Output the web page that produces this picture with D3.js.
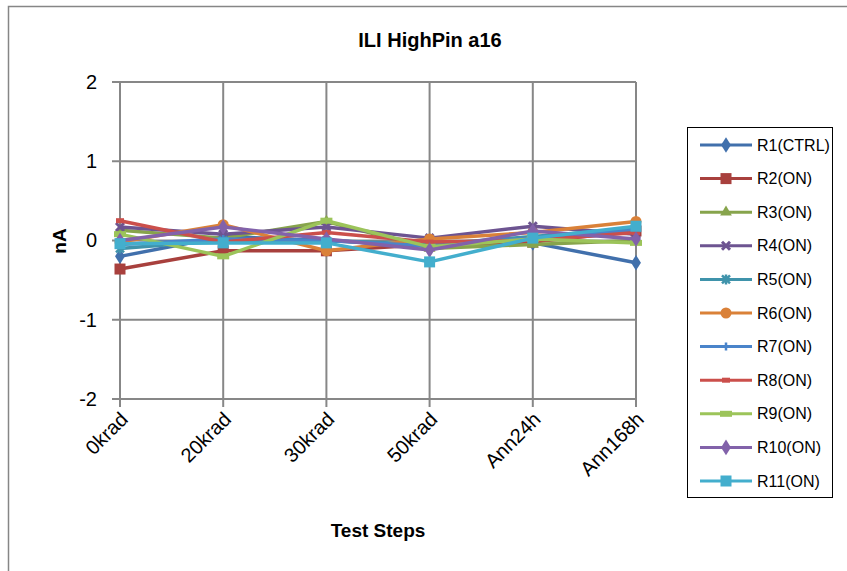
<!DOCTYPE html>
<html>
<head>
<meta charset="utf-8">
<script src="https://d3js.org/d3.v7.min.js"></script>
<style>
  body { margin: 0; background: #fff; }
  svg { font-family: "Liberation Sans", Arial, sans-serif; }
</style>
</head>
<body>
<div class="canvas"></div>
<script>
// data
const steps = ["0krad", "20krad", "30krad", "50krad", "Ann24h", "Ann168h"]
const seriesNames = ["R1(CTRL)", "R2(ON)", "R3(ON)", "R4(ON)", "R5(ON)", "R6(ON)", "R7(ON)", "R8(ON)", "R9(ON)", "R10(ON)", "R11(ON)"]
const r1 = [-0.20, 0.05, 0.00, -0.07, -0.03, -0.28]
const r2 = [-0.36, -0.13, -0.13, -0.05, -0.02, 0.12]
const r3 = [0.13, 0.03, 0.24, -0.10, -0.05, 0.00]
const r4 = [0.17, 0.08, 0.17, 0.03, 0.18, 0.08]
const r5 = [-0.10, 0.00, 0.00, -0.05, 0.05, 0.15]
const r6 = [-0.02, 0.20, -0.13, 0.02, 0.10, 0.24]
const r7 = [-0.05, 0.02, 0.00, -0.07, 0.03, 0.13]
const r8 = [0.25, -0.02, 0.10, -0.02, 0.00, 0.10]
const r9 = [0.08, -0.20, 0.25, -0.08, 0.02, -0.03]
const r10 = [0.00, 0.17, 0.02, -0.12, 0.12, 0.02]
const r11 = [-0.04, -0.03, -0.03, -0.27, 0.03, 0.18]
const yTicks = [-2, -1, 0, 1, 2]

const colors = ["#4170AC", "#A8403D", "#87A44C", "#6D5491", "#3F93AB", "#DA8138",
    "#4A84CA", "#CB4F4B", "#9CC45A", "#8262AA", "#43AECD"]
const markers = ["diamond", "square", "triangle", "x", "star", "circle", "plus", "dash", "longdash", "diamond", "square"]

const series = [r1, r2, r3, r4, r5, r6, r7, r8, r9, r10, r11].map((v, i) => ({
    name: seriesNames[i], values: v, color: colors[i], marker: markers[i]
}))

const svg = d3.select(".canvas").append("svg")
    .attr("width", 847)
    .attr("height", 571)

// chart border
svg.append("rect")
    .attr("x", 8.5).attr("y", 6.5)
    .attr("width", 850).attr("height", 580)
    .attr("fill", "none")
    .attr("stroke", "#868686")
    .attr("stroke-width", 1.5)

const x = d3.scalePoint()
    .domain(steps)
    .range([120, 636])
const y = d3.scaleLinear()
    .domain([-2, 2])
    .range([399, 82])

// gridlines
const grid = svg.append("g")
grid.selectAll(".hgrid")
    .data(yTicks)
    .enter().append("line")
    .attr("x1", 112).attr("x2", 636)
    .attr("y1", d => y(d)).attr("y2", d => y(d))
    .attr("stroke", "#878787").attr("stroke-width", 2)
grid.selectAll(".vgrid")
    .data(steps)
    .enter().append("line")
    .attr("x1", d => x(d)).attr("x2", d => x(d))
    .attr("y1", y(2)).attr("y2", 407)
    .attr("stroke", "#878787").attr("stroke-width", 2)

// y axis labels
const yAxis = d3.axisLeft(y).tickValues(yTicks).tickSize(0).tickPadding(0)
    .tickFormat(d => String(d))
const yAxisGroup = svg.append("g")
    .attr("transform", "translate(97,0)")
    .call(yAxis)
yAxisGroup.select(".domain").remove()
yAxisGroup.selectAll("text")
    .attr("font-size", 20)
    .attr("font-family", "Liberation Sans, Arial, sans-serif")
    .attr("fill", "#000")

// x axis labels
const xAxis = d3.axisBottom(x).tickSize(0).tickPadding(0)
const xAxisGroup = svg.append("g")
    .attr("transform", "translate(0,410)")
    .call(xAxis)
xAxisGroup.select(".domain").remove()
xAxisGroup.selectAll("text")
    .attr("font-size", 20)
    .attr("font-family", "Liberation Sans, Arial, sans-serif")
    .attr("fill", "#000")
    .attr("text-anchor", "end")
    .attr("dy", "0.75em")
    .attr("transform", "translate(-2,0) rotate(-45)")

// lines
const line = d3.line()
    .x((d, i) => x(steps[i]))
    .y(d => y(d))

function drawMarker(g, type, color, cx, cy) {
    const s = d3.symbol()
    if (type === "diamond") {
        g.append("path").attr("d", s.type(d3.symbolDiamond).size(70)())
            .attr("transform", `translate(${cx},${cy}) scale(1.1,1)`).attr("fill", color)
    } else if (type === "square") {
        g.append("rect").attr("x", cx - 5.5).attr("y", cy - 5.5).attr("width", 11).attr("height", 11).attr("fill", color)
    } else if (type === "triangle") {
        g.append("path").attr("d", s.type(d3.symbolTriangle).size(60)())
            .attr("transform", `translate(${cx},${cy})`).attr("fill", color)
    } else if (type === "x") {
        g.append("path").attr("d", `M${cx - 4},${cy - 4}L${cx + 4},${cy + 4}M${cx - 4},${cy + 4}L${cx + 4},${cy - 4}`)
            .attr("stroke", color).attr("stroke-width", 3)
    } else if (type === "star") {
        g.append("path").attr("d", `M${cx - 4},${cy - 4}L${cx + 4},${cy + 4}M${cx - 4},${cy + 4}L${cx + 4},${cy - 4}M${cx},${cy - 5}L${cx},${cy + 5}`)
            .attr("stroke", color).attr("stroke-width", 2.5)
    } else if (type === "circle") {
        g.append("circle").attr("cx", cx).attr("cy", cy).attr("r", 5.5).attr("fill", color)
    } else if (type === "plus") {
        g.append("path").attr("d", `M${cx - 4},${cy}L${cx + 4},${cy}M${cx},${cy - 4}L${cx},${cy + 4}`)
            .attr("stroke", color).attr("stroke-width", 2.5)
    } else if (type === "dash") {
        g.append("rect").attr("x", cx - 4).attr("y", cy - 2.5).attr("width", 8).attr("height", 5).attr("fill", color)
    } else if (type === "longdash") {
        g.append("rect").attr("x", cx - 6).attr("y", cy - 3).attr("width", 12).attr("height", 6).attr("fill", color)
    }
}

const plot = svg.append("g")
series.forEach(s => {
    const g = plot.append("g")
    g.append("path")
        .attr("d", line(s.values))
        .attr("fill", "none")
        .attr("stroke", s.color)
        .attr("stroke-width", 3.5)
        .attr("stroke-linejoin", "round")
    s.values.forEach((v, i) => drawMarker(g, s.marker, s.color, x(steps[i]), y(v)))
})

// title and axis titles
svg.append("text")
    .attr("x", 430).attr("y", 47)
    .attr("text-anchor", "middle")
    .attr("font-size", 20).attr("font-weight", "bold")
    .text("ILI HighPin a16")
svg.append("text")
    .attr("transform", "translate(66,241) rotate(-90)")
    .attr("text-anchor", "middle")
    .attr("font-size", 19).attr("font-weight", "bold")
    .text("nA")
svg.append("text")
    .attr("x", 378).attr("y", 537)
    .attr("text-anchor", "middle")
    .attr("font-size", 19).attr("font-weight", "bold")
    .text("Test Steps")

// legend
const legend = svg.append("g")
legend.append("rect")
    .attr("x", 687.5).attr("y", 127.5)
    .attr("width", 145).attr("height", 370)
    .attr("fill", "#fff")
    .attr("stroke", "#000").attr("stroke-width", 1)
series.forEach((s, i) => {
    const ly = 145 + i * 33.6
    const g = legend.append("g")
    g.append("line")
        .attr("x1", 700).attr("x2", 752)
        .attr("y1", ly).attr("y2", ly)
        .attr("stroke", s.color).attr("stroke-width", 3)
    drawMarker(g, s.marker, s.color, 726, ly)
    g.append("text")
        .attr("x", 757).attr("y", ly + 5.5)
        .attr("font-size", 16)
        .text(s.name)
})
</script>
</body>
</html>
